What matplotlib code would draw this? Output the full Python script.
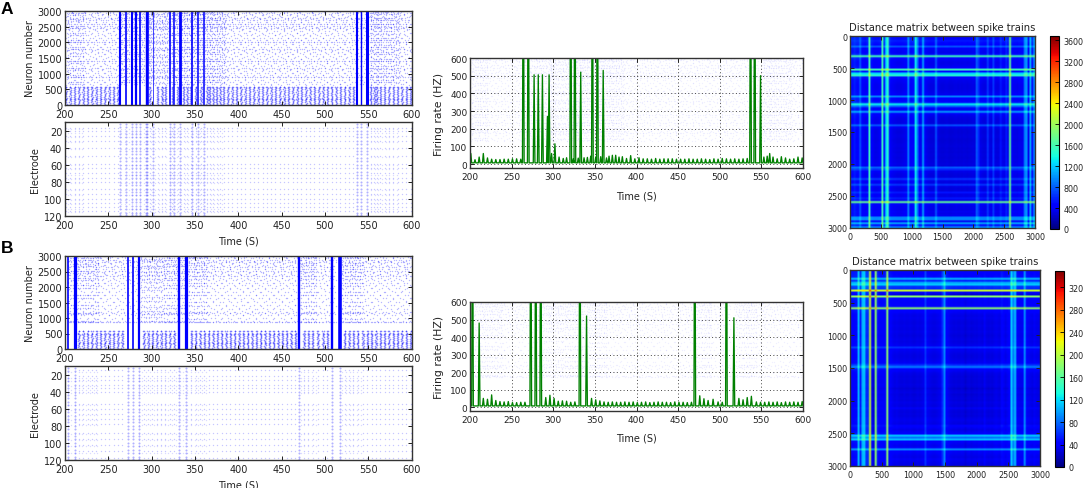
import numpy as np
import matplotlib
matplotlib.use("Agg")
import matplotlib.pyplot as plt

W, H = 1084, 489

time_ticks = [200, 250, 300, 350, 400, 450, 500, 550, 600]
neuron_ticks = [0, 500, 1000, 1500, 2000, 2500, 3000]
electrode_ticks = [20, 40, 60, 80, 100, 120]
rate_ticks = [0, 100, 200, 300, 400, 500, 600]
matrix_ticks = [0, 500, 1000, 1500, 2000, 2500, 3000]
cbar_ticks_a = [0, 400, 800, 1200, 1600, 2000, 2400, 2800, 3200, 3600]
cbar_ticks_b = [0, 40, 80, 120, 160, 200, 240, 280, 320]

# burst times and heights (anything over 600 runs off the top)
burst_t_a = [264, 270, 277, 282, 287, 293, 295, 302, 321, 326, 333, 347, 353, 360, 537, 542, 549]
burst_v_a = [1500, 1500, 505, 505, 505, 270, 505, 115, 1500, 1500, 520, 1500, 1500, 530, 1500, 1500, 500]
burst_w_a = [1.5, 1.2, 1.5, 1.6, 1.2, 1.0, 1.9, 0.5, 1.2, 1.1, 2.0, 1.2, 1.1, 1.1, 1.5, 1.0, 2.2]

burst_t_b = [203, 211, 273, 279, 285, 332, 340, 470, 508, 517]
burst_v_b = [1500, 480, 1500, 1500, 1500, 1500, 520, 1500, 1500, 510]
burst_w_b = [1.2, 2.3, 1.2, 1.2, 1.6, 1.7, 2.3, 1.7, 1.7, 2.6]

# small periodic events
event_t_a = [201, 206, 211, 216, 221, 226, 231, 236, 241, 246, 251, 256, 261,
             298, 307, 312, 316, 324, 330, 337, 341, 345, 351, 357, 364, 367, 371, 375,
             379, 383, 388, 393, 398, 403, 408, 413, 418, 423, 428, 433, 438, 443, 448,
             453, 458, 463, 468, 473, 478, 483, 488, 493, 498, 503, 508, 513, 518, 523,
             528, 533, 553, 557, 560, 564, 569, 574, 579, 584, 589, 594, 599]
event_v_a = [60, 25, 40, 60, 35, 28, 26, 26, 28, 28, 30, 30, 28,
             60, 40, 32, 36, 30, 34, 36, 38, 45, 40, 42, 35, 45, 50, 50,
             40, 42, 32, 48, 30, 36, 30, 30, 28, 32, 28, 30, 30, 30, 28,
             28, 28, 30, 28, 28, 30, 28, 26, 30, 28, 32, 30, 28, 30, 28,
             30, 32, 40, 45, 60, 40, 30, 42, 35, 28, 30, 40, 35]

event_t_b = [216, 221, 226, 231, 236, 241, 246, 251, 256, 261, 266,
             291, 296, 301, 306, 311, 316, 321, 326, 346, 351, 356, 361, 366, 371, 376,
             381, 386, 391, 396, 401, 406, 411, 416, 421, 426, 431, 436, 441, 446, 451,
             456, 461, 466, 476, 481, 486, 492, 498, 503, 523, 528, 533, 538, 544, 549,
             554, 559, 564, 569, 574, 579, 584, 589, 594, 599]
event_v_b = [50, 45, 70, 38, 32, 30, 32, 26, 26, 28, 28,
             55, 68, 50, 34, 36, 34, 28, 30, 50, 42, 36, 30, 28, 30, 28,
             28, 30, 28, 30, 26, 28, 30, 26, 28, 30, 28, 28, 26, 30, 28,
             28, 26, 28, 65, 48, 38, 45, 30, 28, 50, 42, 55, 62, 30, 28,
             28, 30, 28, 30, 26, 30, 28, 30, 28, 32]

# where the network is more active, spikes get denser
busy_a = [(203, 222), (265, 385), (553, 585)]
busy_b = [(203, 240), (285, 366), (472, 490), (520, 545)]

low_rows = [15, 40, 70, 95, 125, 150, 180, 205, 235, 265, 290, 320, 350, 375, 410, 440, 470, 500, 530, 565, 590]
high_rows_a = [650, 720, 800, 880, 930, 1010, 1080, 1160, 1240, 1320, 1390, 1470, 1540, 1620, 1690, 1770, 1840,
               1920, 2000, 2060, 2130, 2210, 2280, 2360, 2430, 2500, 2570, 2640, 2710, 2780, 2850, 2920, 2980]
high_count_a = [1, 1, 1, 2, 1, 1, 1, 2, 1, 1, 2, 1, 1, 1, 1, 2, 1, 1, 2, 1, 1, 1, 1, 1, 2, 2, 2, 1, 2, 2, 1, 2, 2]
high_rows_b = [860, 880, 980, 1090, 1150, 1190, 1290, 1400, 1510, 1620, 1730, 1840, 1950, 2040, 2120, 2200,
               2270, 2350, 2420, 2500, 2570, 2640, 2710, 2780, 2850, 2920, 2980]
high_count_b = [2, 1, 1, 1, 1, 1, 1, 1, 1, 1, 1, 1, 1, 1, 1, 1, 1, 2, 1, 2, 1, 2, 1, 2, 2, 1, 2]

electrodes_a = [17, 21, 26, 32, 40, 50, 59, 64, 70, 75, 80, 88, 94, 100, 105, 110, 114]
electrodes_b = [15, 22, 26, 32, 36, 40, 54, 60, 66, 72, 78, 88, 95, 102, 110, 118]
burst_electrodes = [12, 16, 20, 24, 28, 32, 36, 40, 44, 48, 52, 56, 60, 64, 68, 72, 76, 80, 84, 88, 92, 96, 100,
                    104, 108, 112, 116, 119]
time_shifts = [0.0, 2.6, 1.2, 3.8, 0.7, 3.1, 1.8, 4.4]
low_shifts = [0.0, 0.8, -0.6, 0.4, -0.9, 0.6, -0.3]

# distance of each 30-neuron block to the rest, first panel
profile_a = [420, 420, 500, 430, 400, 720, 340, 300, 280, 400,
             1550, 430, 320, 280, 280, 300, 350, 1550, 420, 1200,
             1450, 420, 300, 270, 260, 240, 240, 240, 260, 280,
             300, 900, 400, 340, 430, 1300, 850, 340, 300, 1000,
             340, 270, 240, 220, 220, 210, 720, 270, 210, 200,
             200, 210, 220, 200, 190, 200, 210, 220, 200, 210,
             200, 220, 210, 200, 220, 210, 230, 220, 750, 560,
             270, 240, 220, 230, 600, 250, 240, 600, 250, 220,
             240, 480, 270, 250, 500, 270, 1700, 340, 270, 270,
             260, 300, 270, 300, 900, 950, 300, 1050, 380, 900]
# same thing for the second panel
profile_b = [34, 36, 38, 40, 105, 46, 100, 110, 55, 52,
             205, 30, 14, 180, 40, 32, 30, 32, 34, 180,
             34, 30, 26, 24, 26, 24, 22, 22, 24, 22,
             22, 24, 22, 20, 22, 24, 22, 24, 26, 55,
             28, 26, 24, 22, 22, 24, 26, 28, 55, 85,
             36, 28, 24, 22, 20, 22, 20, 20, 22, 20,
             14, 20, 22, 18, 20, 22, 20, 24, 22, 20,
             28, 22, 20, 22, 20, 24, 26, 24, 22, 38,
             28, 24, 28, 36, 110, 80, 105, 32, 28, 26,
             28, 90, 30, 28, 26, 24, 28, 26, 24, 22]
matrix_max_a = 3684
matrix_max_b = 349


def px_axes(x0, y0, x1, y1):
    return fig.add_axes([x0 / W, 1 - y1 / H, (x1 - x0) / W, (y1 - y0) / H])


def style(ax, size=7):
    ax.tick_params(direction="in", top=True, right=True, length=3, width=0.7, labelsize=size, color="#222222",
                   labelcolor="#222222")
    ax.tick_params(axis="x", pad=3)
    ax.tick_params(axis="y", pad=2)
    for s in ax.spines.values():
        s.set_linewidth(1.0)
        s.set_color("#333333")


def spike_points(event_t, burst_t, busy, rows, counts):
    ts, ys = [], []
    for i, r in enumerate(rows):
        for k in range(counts[i]):
            for j, t in enumerate(event_t + burst_t):
                t2 = t + time_shifts[(i * 3 + k * 5 + j) % len(time_shifts)]
                ts.append(t2)
                ys.append(r + 12 * ((i + j) % 3))
    for i, r in enumerate(rows):
        for a, b in busy:
            for t in np.arange(a, b, 2.9):
                if (i + int(t)) % 3 != 0:
                    ts.append(t + 0.6 * (i % 2))
                    ys.append(r + 25 * (int(t) % 3))
    return np.array(ts), np.array(ys)


def draw_panel(rows_y, event_t, event_v, burst_t, burst_v, burst_w, busy, high_rows, high_count, electrodes,
               profile, matrix_max, cbar_ticks, mat_box, cbar_box, rate_box, time_pad):
    event_t = list(event_t)
    burst_t = list(burst_t)

    # neuron raster
    ax = px_axes(65, rows_y[0], 411.5, rows_y[1])
    hi_t, hi_y = spike_points(event_t, burst_t, busy, high_rows, high_count)
    ax.scatter(hi_t, hi_y, s=1.0, c="b", alpha=0.28, linewidths=0)
    low_t, low_y = [], []
    for j, t in enumerate(event_t):
        for i, r in enumerate(low_rows):
            low_t.append(t + low_shifts[(i + j) % len(low_shifts)])
            low_y.append(r)
    ax.scatter(low_t, low_y, s=1.4, c="b", alpha=0.45, linewidths=0)
    ax.vlines(burst_t, 0, 3000, color="b", linewidth=burst_w)
    ax.set_xlim(200, 600)
    ax.set_ylim(0, 3000)
    ax.set_xticks(time_ticks)
    ax.set_yticks(neuron_ticks)
    ax.set_ylabel("Neuron number", fontsize=7, labelpad=2, color="#222222")
    style(ax)

    # electrode raster
    ax = px_axes(65, rows_y[2], 411.5, rows_y[3])
    el_t = [t for t in event_t for r in electrodes]
    el_y = [r for t in event_t for r in electrodes]
    ax.scatter(el_t, el_y, s=1.0, c="b", alpha=0.22, linewidths=0)
    for a, b in busy:
        busy_t = [t for t in np.arange(a, b, 4.3) for r in electrodes]
        busy_y = [r + 1.5 for t in np.arange(a, b, 4.3) for r in electrodes]
        ax.scatter(busy_t, busy_y, s=1.0, c="b", alpha=0.14, linewidths=0)
    col_t = [t for t in burst_t for r in burst_electrodes]
    col_y = [r for t in burst_t for r in burst_electrodes]
    ax.scatter(col_t, col_y, s=2.2, c="b", alpha=0.3, linewidths=0)
    ax.set_xlim(200, 600)
    ax.set_ylim(120, 10)
    ax.set_xticks(time_ticks)
    ax.set_yticks(electrode_ticks)
    ax.set_xlabel("Time (S)", fontsize=7, labelpad=4, color="#222222")
    ax.set_ylabel("Electrode", fontsize=7, labelpad=3, color="#222222")
    style(ax)

    # firing rate
    ax = px_axes(*rate_box)
    ax.scatter(hi_t, hi_y / 5.0, s=1.0, c="b", alpha=0.06, linewidths=0)
    order = np.argsort(event_t + burst_t)
    peak_t = np.array(event_t + burst_t)[order]
    peak_v = np.array(list(event_v) + list(burst_v))[order]
    line_t, line_v = [], []
    for t, v in zip(peak_t, peak_v):
        line_t += [t - 1.0, t, t + 1.0]
        line_v += [7, v, 7]
    ax.plot(line_t, line_v, color="g", linewidth=0.95)
    ax.grid(True, linestyle=(0, (1, 2.5)), color="#444444", linewidth=0.7)
    ax.set_xlim(200, 600)
    ax.set_ylim(-22, 600)
    ax.set_xticks(time_ticks)
    ax.set_yticks(rate_ticks)
    ax.set_xlabel("Time (S)", fontsize=7, labelpad=time_pad, color="#222222")
    ax.set_ylabel("Firing rate (HZ)", fontsize=7.8, labelpad=4, color="#222222")
    style(ax, 6.5)

    # distance matrix
    ax = px_axes(*mat_box)
    p = np.array(profile, dtype=float)
    m = np.hypot(p[:, None], p[None, :])
    im = ax.imshow(m, cmap="jet", vmin=0, vmax=matrix_max, extent=(0, 3000, 3000, 0), aspect="auto",
                   interpolation="bilinear")
    ax.set_xticks(matrix_ticks)
    ax.set_yticks(matrix_ticks)
    ax.set_title("Distance matrix between spike trains", fontsize=7.2, pad=4, color="#222222")
    style(ax, 5.8)

    cax = px_axes(*cbar_box)
    cb = fig.colorbar(im, cax=cax, ticks=cbar_ticks)
    cb.ax.tick_params(direction="in", length=3, width=0.6, labelsize=5.8, pad=3, labelcolor="#222222")
    cb.outline.set_linewidth(0.8)


fig = plt.figure(figsize=(W / 100, H / 100), dpi=100)

draw_panel((12, 106, 123, 217), event_t_a, event_v_a, burst_t_a, burst_v_a, burst_w_a, busy_a,
           high_rows_a, high_count_a, electrodes_a, profile_a, matrix_max_a, cbar_ticks_a,
           (850, 37, 1035, 229), (1050, 37, 1059, 230), (470, 59, 803, 169), 7)
draw_panel((257, 350, 367, 461), event_t_b, event_v_b, burst_t_b, burst_v_b, burst_w_b, busy_b,
           high_rows_b, high_count_b, electrodes_b, profile_b, matrix_max_b, cbar_ticks_b,
           (850, 271, 1040, 467), (1055, 272, 1064, 468), (470, 303, 803, 412), 6)

fig.text(1 / W, 1 - 14 / H, "A", fontsize=12.5, fontweight="bold", family="Liberation Sans")
fig.text(1 / W, 1 - 253 / H, "B", fontsize=12.5, fontweight="bold", family="Liberation Sans")

fig.savefig("out.png", dpi=100)
